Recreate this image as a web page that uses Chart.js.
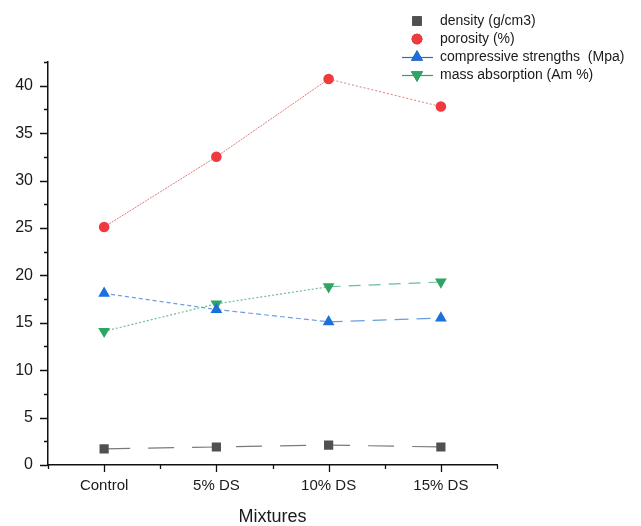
<!DOCTYPE html>
<html>
<head>
<meta charset="utf-8">
<script src="https://cdn.jsdelivr.net/npm/chart.js@4.4.1/dist/chart.umd.min.js"></script>
<style>
  html, body { margin: 0; padding: 0; background: #fff; }
  #wrap { width: 641px; height: 526px; }
</style>
</head>
<body>
<div id="wrap"><canvas id="c" width="641" height="526"></canvas></div>
<script>
// Data
const mixtures = ["Control", "5% DS", "10% DS", "15% DS"];
const density = [1.7, 1.9, 2.1, 1.9];
const porosity = [25.1, 32.5, 40.7, 37.8];
const compressive = [18.1, 16.4, 15.1, 15.5];
const massAbsorption = [14.1, 17.0, 18.8, 19.3];

const FONT = "'Liberation Sans', Arial, sans-serif";

// Helper: per-segment dash pattern
function dashBySegment(patterns) {
  return ctx => patterns[ctx.p0DataIndex] || [];
}

// Axis tick marks (major on values/categories, minor in between)
const tickMarks = {
  id: "tickMarks",
  afterDraw(chart) {
    const { ctx, chartArea: a, scales: { x, y } } = chart;
    ctx.save();
    ctx.strokeStyle = "#111";
    ctx.lineWidth = 1.3;
    ctx.beginPath();
    for (let v = 0; v <= 42.5; v += 2.5) {
      const py = Math.round(y.getPixelForValue(v)) + 0.5;
      const len = v % 5 === 0 ? 8 : 4;
      ctx.moveTo(a.left, py);
      ctx.lineTo(a.left - len, py);
    }
    for (let i = 0; i < mixtures.length; i++) {
      const px = Math.round(x.getPixelForValue(i)) + 0.5;
      ctx.moveTo(px, a.bottom);
      ctx.lineTo(px, a.bottom + 7);
    }
    for (let i = 0; i <= mixtures.length; i++) {
      const px = Math.round(x.getPixelForValue(i - 0.5)) + 0.5;
      ctx.moveTo(px, a.bottom);
      ctx.lineTo(px, a.bottom + 4);
    }
    ctx.stroke();
    ctx.restore();
  }
};

// Legend stacked at the top right, drawn from the datasets
const cornerLegend = {
  id: "cornerLegend",
  afterDraw(chart) {
    const { ctx } = chart;
    ctx.save();
    ctx.font = "14px " + FONT;
    ctx.textBaseline = "middle";
    chart.data.datasets.forEach((ds, i) => {
      const yy = 21 + i * 18;
      const cx = 417;
      if (ds.legendLine) {
        ctx.strokeStyle = ds.pointBackgroundColor;
        ctx.lineWidth = 1.2;
        ctx.setLineDash([]);
        ctx.beginPath();
        ctx.moveTo(402, yy + 0.5);
        ctx.lineTo(433, yy + 0.5);
        ctx.stroke();
      }
      Chart.helpers.drawPoint(ctx, {
        pointStyle: ds.pointStyle,
        radius: ds.pointRadius,
        rotation: ds.pointRotation || 0,
        borderWidth: 0
      }, cx, yy);
      ctx.fillStyle = ds.pointBackgroundColor;
      ctx.beginPath();
      Chart.helpers.drawPoint(ctx, {
        pointStyle: ds.pointStyle,
        radius: ds.pointRadius,
        rotation: ds.pointRotation || 0,
        borderWidth: 0
      }, cx, yy);
      ctx.fill();
      ctx.fillStyle = "#1a1a1a";
      ctx.fillText(ds.label, 440, yy);
    });
    ctx.restore();
  }
};

new Chart(document.getElementById("c"), {
  type: "line",
  data: {
    labels: mixtures,
    datasets: [
      {
        label: "density (g/cm3)",
        data: density,
        borderColor: "#7a7a7a",
        borderWidth: 1.2,
        borderDash: [26, 18],
        pointStyle: "rect",
        pointRadius: 6.5,
        pointBackgroundColor: "#505050",
        pointBorderWidth: 0,
        legendLine: false
      },
      {
        label: "porosity (%)",
        data: porosity,
        borderColor: "#e27b7b",
        borderWidth: 1,
        segment: { borderDash: dashBySegment([[2, 1], [2, 1], [2, 2]]) },
        pointStyle: "circle",
        pointRadius: 5.3,
        pointBackgroundColor: "#ef3b3f",
        pointBorderWidth: 0,
        legendLine: false
      },
      {
        label: "compressive strengths  (Mpa)",
        data: compressive,
        borderColor: "#6b9edd",
        borderWidth: 1.2,
        segment: { borderDash: dashBySegment([[4, 3], [5, 3], [14, 8]]) },
        pointStyle: "triangle",
        pointRadius: 6.8,
        pointBackgroundColor: "#1d6fdc",
        pointBorderWidth: 0,
        legendLine: true
      },
      {
        label: "mass absorption (Am %)",
        data: massAbsorption,
        borderColor: "#6cbf96",
        borderWidth: 1.2,
        segment: { borderDash: dashBySegment([[2, 2], [2, 2], [12, 8]]) },
        pointStyle: "triangle",
        pointRotation: 180,
        pointRadius: 6.8,
        pointBackgroundColor: "#2ea565",
        pointBorderWidth: 0,
        legendLine: true
      }
    ]
  },
  options: {
    responsive: false,
    animation: false,
    layout: { padding: { left: 0, right: 144, top: 62, bottom: 0 } },
    plugins: {
      legend: { display: false },
      tooltip: { enabled: false }
    },
    scales: {
      x: {
        type: "category",
        offset: true,
        grid: { display: false, drawTicks: false },
        border: { display: true, color: "#111", width: 1.5 },
        ticks: { color: "#1a1a1a", font: { family: FONT, size: 15 }, padding: 12, maxRotation: 0 },
        title: {
          display: true,
          text: "Mixtures",
          color: "#1a1a1a",
          font: { family: FONT, size: 18, lineHeight: 1 },
          padding: { top: 0, bottom: 0 }
        },
        afterFit(s) { s.height = 61; }
      },
      y: {
        min: 0,
        max: 42.5,
        grid: { display: false, drawTicks: false },
        border: { display: true, color: "#111", width: 1.5 },
        ticks: {
          stepSize: 2.5,
          autoSkip: false,
          color: "#1a1a1a",
          font: { family: FONT, size: 16 },
          padding: 15,
          callback: v => (v % 5 === 0 ? v : "")
        },
        afterFit(s) { s.width = 48; }
      }
    }
  },
  plugins: [tickMarks, cornerLegend]
});
</script>
</body>
</html>
